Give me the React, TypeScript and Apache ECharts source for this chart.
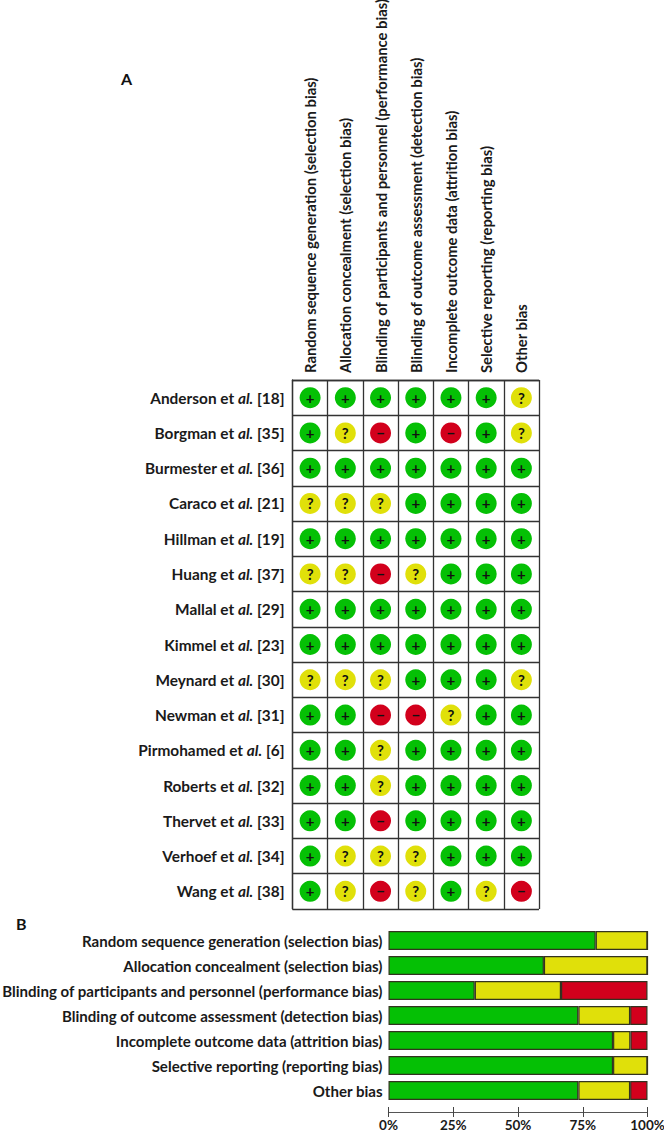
import React, { useEffect, useRef } from "react";
import * as echarts from "echarts";

const domains = [
  "Random sequence generation (selection bias)",
  "Allocation concealment (selection bias)",
  "Blinding of participants and personnel (performance bias)",
  "Blinding of outcome assessment (detection bias)",
  "Incomplete outcome data (attrition bias)",
  "Selective reporting (reporting bias)",
  "Other bias",
];
const studies = [
  ["Anderson", "[18]"], ["Borgman", "[35]"], ["Burmester", "[36]"], ["Caraco", "[21]"], ["Hillman", "[19]"],
  ["Huang", "[37]"], ["Mallal", "[29]"], ["Kimmel", "[23]"], ["Meynard", "[30]"], ["Newman", "[31]"],
  ["Pirmohamed", "[6]"], ["Roberts", "[32]"], ["Thervet", "[33]"], ["Verhoef", "[34]"], ["Wang", "[38]"],
];
const ratings = [
  "++++++?", "+?-+-+?", "+++++++", "???++++", "+++++++",
  "??-?+++", "+++++++", "+++++++", "???+++?", "++--?++",
  "++?++++", "++?++++", "++-++++", "+???+++", "+?-?+?-",
];
const lowRisk = [80, 60, 33.3, 73.3, 86.7, 86.7, 73.3];
const unclearRisk = [20, 40, 33.3, 20, 6.7, 13.3, 20];
const highRisk = [0, 0, 33.4, 6.7, 6.6, 0, 6.7];

const GREEN = "#05c005";
const YELLOW = "#e0e00a";
const RED = "#d2001c";
const FONT = "Lato";
const INK = "#1a1a1a";
const colorOf: Record<string, string> = { "+": GREEN, "?": YELLOW, "-": RED };

export default function App() {
  const ref = useRef<HTMLDivElement>(null);
  useEffect(() => {
    const chart = echarts.init(ref.current!, undefined, { renderer: "svg" });
    const cells: any[] = [];
    ratings.forEach((row, r) => {
      row.split("").forEach((c, d) => {
        cells.push({
          value: [d, r],
          itemStyle: { color: colorOf[c], opacity: 1 },
          label: { formatter: c === "-" ? "−" : c },
        });
      });
    });
    const barAxis = {
      gridIndex: 1, type: "value", min: 0, max: 100, interval: 25, position: "bottom", offset: 8.5,
      splitLine: { show: false },
    };
    chart.setOption({
      animation: false,
      backgroundColor: "#fff",
      graphic: [
        { type: "text", x: 121, y: 70, style: { text: "A", font: `bold 16px ${FONT}`, fill: "#111" } },
        { type: "text", x: 16, y: 915, style: { text: "B", font: `bold 16px ${FONT}`, fill: "#111" } },
      ],
      grid: [
        { left: 292.5, top: 380, width: 246.5, height: 529, show: false, outerBoundsMode: "none" },
        { left: 388.5, top: 928, width: 259, height: 175, show: false, outerBoundsMode: "none" },
      ],
      xAxis: [
        {
          gridIndex: 0, type: "category", position: "top", data: domains,
          axisLine: { show: true, lineStyle: { color: "#333", width: 1.3 } },
          axisTick: { show: false },
          splitLine: { show: true, interval: 0, lineStyle: { color: "#333", width: 1.3 } },
          axisLabel: { interval: 0, rotate: -90, margin: 7, fontFamily: FONT, fontWeight: "bold", fontSize: 14.8, color: INK },
        },
        {
          ...barAxis,
          offset: 9,
          axisLine: { show: true, lineStyle: { color: "#555", width: 1.2 } },
          axisTick: { show: true, length: 5, lineStyle: { color: "#444" } },
          axisLabel: { margin: 6, fontFamily: FONT, fontWeight: "bold", fontSize: 13.5, color: INK, formatter: "{value}%" },
        },
        {
          ...barAxis,
          offset: 9,
          axisLine: { show: false },
          axisTick: { show: true, inside: true, length: 5, lineStyle: { color: "#444" } },
          axisLabel: { show: false },
        },
      ],
      yAxis: [
        {
          gridIndex: 0, type: "category", inverse: true,
          data: studies.map((s) => s[0]),
          axisLine: { show: true, lineStyle: { color: "#333", width: 1.3 } },
          axisTick: { show: false },
          splitLine: { show: true, interval: 0, lineStyle: { color: "#333", width: 1.3 } },
          axisLabel: {
            interval: 0, margin: 8,
            formatter: (_: string, i: number) => `{b|${studies[i][0]} et }{i|al.}{b| ${studies[i][1]}}`,
            rich: {
              b: { fontFamily: FONT, fontWeight: "bold", fontSize: 15.4, color: INK },
              i: { fontFamily: FONT, fontWeight: "bold", fontStyle: "italic", fontSize: 15.4, color: INK },
            },
          },
        },
        {
          gridIndex: 1, type: "category", inverse: true, data: domains,
          axisLine: { show: false }, axisTick: { show: false },
          axisLabel: { interval: 0, margin: 6, fontFamily: FONT, fontWeight: "bold", fontSize: 15.05, color: INK },
        },
      ],
      series: [
        {
          type: "scatter", xAxisIndex: 0, yAxisIndex: 0, symbol: "circle", symbolSize: 21, data: cells,
          label: { show: true, position: "inside", color: "#111", fontFamily: FONT, fontWeight: "bold", fontSize: 15 },
        },
        ...[["Low risk", lowRisk, GREEN], ["Unclear risk", unclearRisk, YELLOW], ["High risk", highRisk, RED]].map(
          ([name, data, color]) => ({
            name, type: "bar", stack: "risk", xAxisIndex: 1, yAxisIndex: 1, data, barWidth: 19,
            itemStyle: { color, borderColor: "#33331f", borderWidth: 1.2 },
          }),
        ),
      ],
    });
    return () => chart.dispose();
  }, []);
  return <div ref={ref} style={{ position: "absolute", left: 0, top: 0, width: 664, height: 1135 }} />;
}
